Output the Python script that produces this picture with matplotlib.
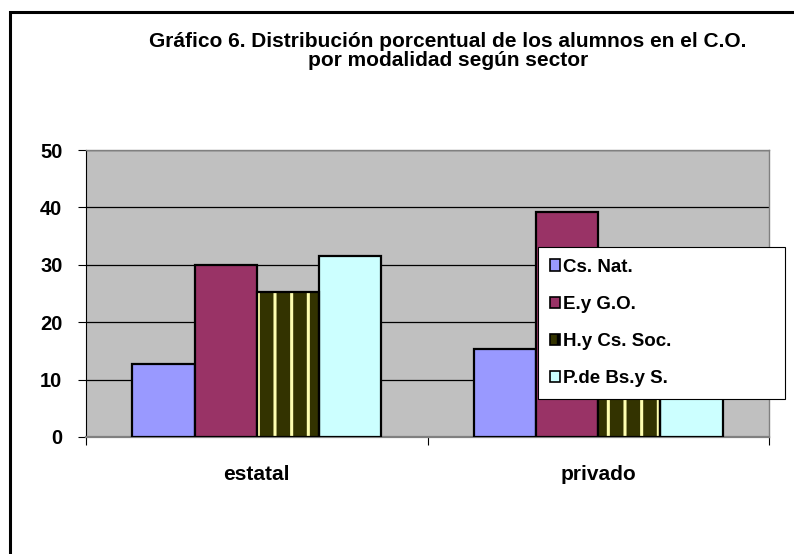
import matplotlib.pyplot as plt
import matplotlib.patches as mpatches
import numpy as np

# ---------------------------------------------------------------------------
# Data
# ---------------------------------------------------------------------------

SECTORS = ["estatal", "privado"]
MODALIDADES = ["Cs. Nat.", "E.y G.O.", "H.y Cs. Soc.", "P.de Bs.y S."]

CS_NAT = [12.8, 15.4]
EYGO = [30.0, 39.2]
HYCS = [25.3, 26.0]   # privado value hidden behind legend in original, estimated
PDEBS = [31.5, 19.4]  # privado value hidden behind legend in original, estimated

Y_TICKS = [0, 10, 20, 30, 40, 50]

# ---------------------------------------------------------------------------
# Style
# ---------------------------------------------------------------------------

FACES = ["#9999FF", "#993366", "#333300", "#CCFFFF"]
HATCHES = [None, None, "|", None]
STRIPE = "#FFFFB0"

plt.rcParams.update({
    "font.family": ["Liberation Sans", "DejaVu Sans"],
    "font.weight": "bold",
    "hatch.linewidth": 2.2,
})

W, H = 794, 554
fig = plt.figure(figsize=(W / 100, H / 100), dpi=100)

# outer chart frame (left/top visible, right/bottom off-image)
fig.patches.append(mpatches.Rectangle((9.5 / W, -0.1), 1.2, 1 - 11.5 / H + 0.1,
                                      transform=fig.transFigure, fill=False,
                                      edgecolor="black", linewidth=2.2))

ax = fig.add_axes([86 / W, 1 - 437 / H, (769 - 86) / W, (437 - 150) / H])
ax.set_facecolor("#C0C0C0")

series = [CS_NAT, EYGO, HYCS, PDEBS]
x = np.arange(len(SECTORS))
width = 0.182
handles = []
for i, (vals, label) in enumerate(zip(series, MODALIDADES)):
    off = (i - len(series) / 2 + 0.5) * width
    if HATCHES[i]:
        ax.bar(x + off, vals, width, color=FACES[i], edgecolor=STRIPE,
               hatch=HATCHES[i], linewidth=0, zorder=3)
        ax.bar(x + off, vals, width, fill=False, edgecolor="black",
               linewidth=1.6, zorder=4)
        h = mpatches.Patch(facecolor=FACES[i], edgecolor="black", linewidth=1.2,
                           hatch="|")
    else:
        ax.bar(x + off, vals, width, color=FACES[i], edgecolor="black",
               linewidth=1.6, zorder=3)
        h = mpatches.Patch(facecolor=FACES[i], edgecolor="black", linewidth=1.2)
    handles.append(h)

ax.set_xlim(-0.5, len(SECTORS) - 0.5)
ax.set_ylim(0, 50)
ax.set_yticks(Y_TICKS)
ax.set_yticklabels([str(t) for t in Y_TICKS], fontsize=14.5, fontweight="bold")
ax.yaxis.grid(True, color="#000000", linewidth=0.9, zorder=1)
ax.set_axisbelow(True)

# category boundaries as major ticks, labels on minor ticks
ax.set_xticks(np.arange(len(SECTORS) + 1) - 0.5)
ax.set_xticklabels([])
ax.set_xticks(x, minor=True)
ax.set_xticklabels(SECTORS, minor=True, fontsize=15, fontweight="bold")
ax.tick_params(axis="x", which="minor", length=0, pad=20)
ax.tick_params(axis="x", which="major", length=6, color="#000000", width=0.8)
ax.tick_params(axis="y", length=6, color="#000000", width=0.8, pad=11)

for side in ("top", "right"):
    ax.spines[side].set_color("#808080")
    ax.spines[side].set_linewidth(1.0)
ax.spines["left"].set_color("#000000")
ax.spines["left"].set_linewidth(0.8)
ax.spines["bottom"].set_color("#808080")
ax.spines["bottom"].set_linewidth(1.6)

fig.text(448 / W, 1 - 51 / H,
         "Gráfico 6. Distribución porcentual de los alumnos en el C.O.\npor modalidad según sector",
         ha="center", va="center", fontsize=15, fontweight="bold",
         linespacing=1.0)

leg = fig.legend(handles, MODALIDADES, loc="upper left",
                 bbox_to_anchor=(538 / W, 1 - 397 / H, (785 - 538) / W, (397 - 247) / H),
                 mode="expand", prop={"weight": "bold", "size": 13.5},
                 frameon=True, fancybox=False, shadow=False, framealpha=1,
                 handlelength=0.55, handleheight=0.55, handletextpad=0.15,
                 labelspacing=1.08, borderpad=0.62, borderaxespad=0)
leg.get_frame().set_edgecolor("black")
leg.get_frame().set_linewidth(0.8)
leg.get_frame().set_facecolor("white")

plt.savefig("out.png", dpi=100)
